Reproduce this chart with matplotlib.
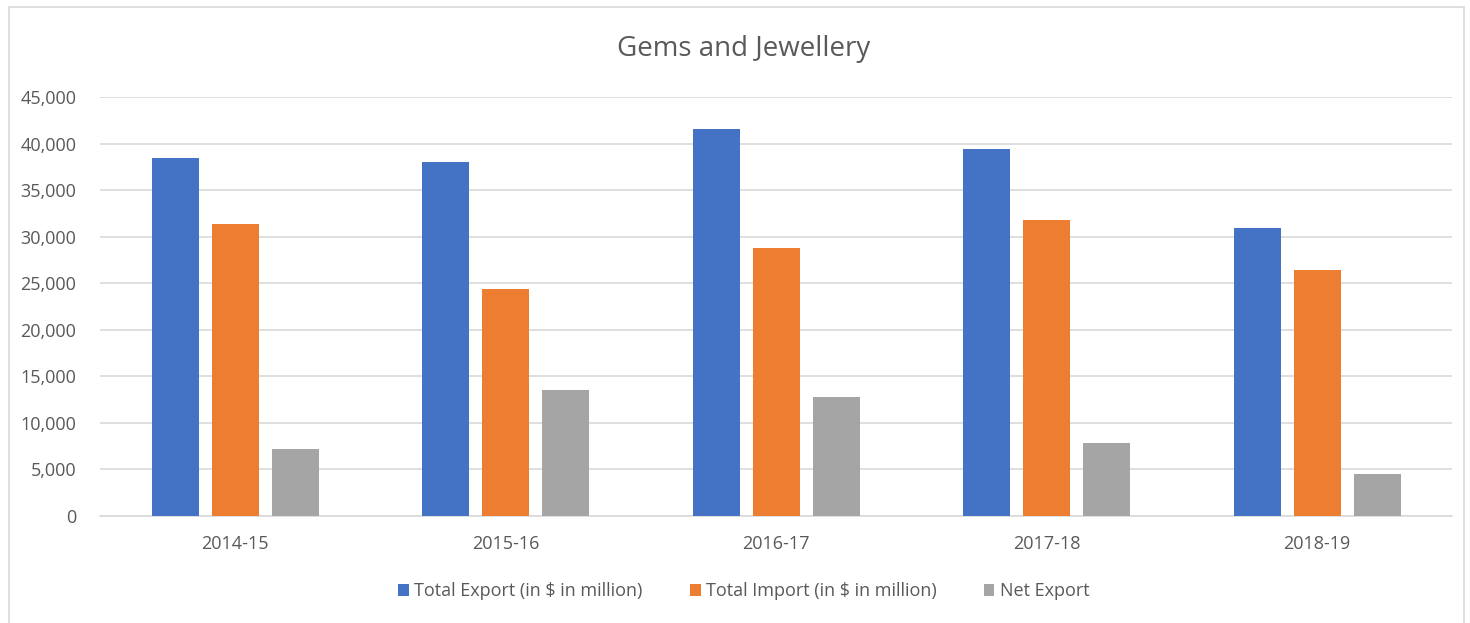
import matplotlib
matplotlib.use("Agg")
import matplotlib.pyplot as plt
import numpy as np
from matplotlib.patches import Rectangle

categories = ["2014-15", "2015-16", "2016-17", "2017-18", "2018-19"]
total_export = [38500, 38050, 41550, 39450, 30930]
total_import = [31350, 24400, 28800, 31750, 26420]
net_export = [7150, 13550, 12750, 7800, 4550]
series_names = ["Total Export (in $ in million)", "Total Import (in $ in million)", "Net Export"]
colors = ["#4472C4", "#ED7D31", "#A5A5A5"]
yticks = list(range(0, 45001, 5000))

plt.rcParams['font.family'] = ['Open Sans', 'DejaVu Sans']

fig = plt.figure(figsize=(14.7, 6.23), dpi=100)
ax = fig.add_axes([0.068, 0.172, 0.92, 0.672])

x = np.arange(len(categories))
w = 0.174
step = 0.222
for i, (vals, name, c) in enumerate(zip([total_export, total_import, net_export], series_names, colors)):
    ax.bar(x + (i - 1) * step, vals, width=w, color=c, label=name, zorder=3)

ax.set_xlim(-0.5, len(categories) - 0.5)
ax.set_ylim(0, 45000)
ax.set_yticks(yticks)
ax.set_yticklabels([f"{v:,}" for v in yticks])
ax.set_xticks(x)
ax.set_xticklabels(categories)
ax.grid(axis='y', color='#D9D9D9', linewidth=1.2, zorder=0)
for s in ['top', 'right', 'left']:
    ax.spines[s].set_visible(False)
ax.spines['bottom'].set_color('#D9D9D9')
ax.spines['bottom'].set_linewidth(1.2)
ax.tick_params(axis='both', length=0, colors='#595959', labelsize=13)
ax.tick_params(axis='x', pad=14)
ax.tick_params(axis='y', pad=17)

fig.text(0.506, 0.922, "Gems and Jewellery", ha='center', va='center', fontsize=20, color='#595959')

leg = fig.legend(loc='center', bbox_to_anchor=(0.506, 0.051), ncol=3, frameon=False,
                 fontsize=13, handlelength=0.6, handleheight=0.6, handletextpad=0.3,
                 columnspacing=2.6)
for t in leg.get_texts():
    t.set_color('#595959')

fig.patches.append(Rectangle((0.006, -0.01), 0.99, 0.998, transform=fig.transFigure,
                             fill=False, edgecolor='#D9D9D9', linewidth=1.2))

fig.savefig("out.png", dpi=100, facecolor='white')
